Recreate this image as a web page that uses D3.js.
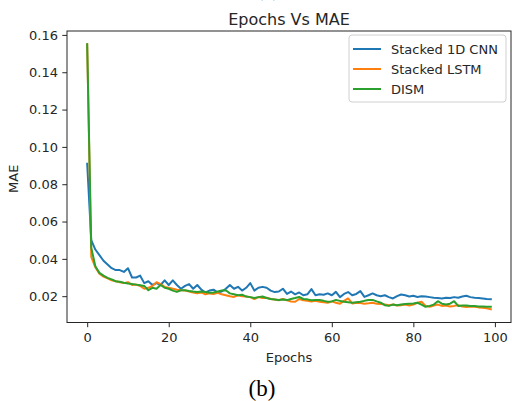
<!DOCTYPE html>
<html>
<head>
<meta charset="utf-8">
<script src="https://cdn.jsdelivr.net/npm/d3@7"></script>
<style>
  body { margin: 0; background: #fff; }
  svg { display: block; }
  text { font-family: "DejaVu Sans", sans-serif; fill: #262626; }
</style>
</head>
<body>
<div></div>
<script>
var epochs = d3.range(0, 100);

var cnn = [
  0.091, 0.050, 0.045, 0.042, 0.039, 0.037, 0.035, 0.034, 0.034, 0.033,
  0.035, 0.030, 0.030, 0.031, 0.027, 0.028, 0.026, 0.027, 0.026, 0.0285,
  0.026, 0.0285, 0.026, 0.024, 0.0255, 0.0265, 0.024, 0.026, 0.0235, 0.022,
  0.023, 0.0235, 0.022, 0.0225, 0.024, 0.026, 0.024, 0.025, 0.023, 0.0245,
  0.027, 0.023, 0.0245, 0.025, 0.0245, 0.023, 0.0222, 0.0225, 0.024, 0.0212,
  0.0225, 0.021, 0.022, 0.0205, 0.021, 0.0238, 0.0205, 0.021, 0.0208, 0.0215,
  0.0205, 0.0223, 0.0195, 0.0212, 0.0222, 0.0205, 0.0212, 0.0227, 0.0196, 0.0205,
  0.0215, 0.0205, 0.020, 0.0205, 0.0195, 0.0188, 0.020, 0.0209, 0.0205, 0.0198,
  0.0202, 0.0196, 0.020, 0.0198, 0.0195, 0.0192, 0.019, 0.0188, 0.0192, 0.019,
  0.0195, 0.0192, 0.0198, 0.0202, 0.0195, 0.0192, 0.019, 0.0188, 0.0185, 0.0184
];

var lstm = [
  0.155, 0.041, 0.0355, 0.032, 0.0305, 0.0295, 0.0285, 0.028, 0.0275, 0.027,
  0.0275, 0.026, 0.0262, 0.0255, 0.024, 0.0245, 0.0255, 0.0275, 0.0265, 0.025,
  0.0245, 0.024, 0.0235, 0.0232, 0.023, 0.0225, 0.022, 0.0215, 0.022, 0.021,
  0.0215, 0.0212, 0.0218, 0.021, 0.0205, 0.020, 0.0196, 0.0205, 0.020, 0.0198,
  0.0195, 0.0185, 0.0195, 0.019, 0.0192, 0.0185, 0.0182, 0.0178, 0.0185, 0.0178,
  0.0172, 0.017, 0.0185, 0.0178, 0.0175, 0.0172, 0.0175, 0.017, 0.0168, 0.0165,
  0.0172, 0.0165, 0.016, 0.0175, 0.0188, 0.0161, 0.0165, 0.0163, 0.016, 0.0162,
  0.0165, 0.016, 0.0158, 0.0155, 0.0152, 0.0155, 0.015, 0.0152, 0.0155, 0.015,
  0.0155, 0.0165, 0.017, 0.0148, 0.0143, 0.015, 0.0155, 0.0148, 0.015, 0.0145,
  0.0148, 0.0152, 0.0145, 0.0142, 0.0145, 0.0143, 0.014, 0.0138, 0.0135, 0.013
];

var dism = [
  0.155, 0.046, 0.036, 0.0325, 0.031, 0.0298, 0.029, 0.028, 0.0277, 0.0272,
  0.0268, 0.0265, 0.0262, 0.0259, 0.0255, 0.0232, 0.0245, 0.024, 0.026, 0.0245,
  0.024, 0.023, 0.0223, 0.0232, 0.0232, 0.0228, 0.0225, 0.0223, 0.0225, 0.0222,
  0.0218, 0.022, 0.0225, 0.023, 0.0232, 0.0215, 0.021, 0.0205, 0.0208, 0.0198,
  0.0195, 0.019, 0.0195, 0.0198, 0.019, 0.0185, 0.0182, 0.0179, 0.0182, 0.0179,
  0.0185, 0.019, 0.0196, 0.0185, 0.0183, 0.0178, 0.018, 0.0179, 0.0175, 0.017,
  0.0172, 0.018, 0.0175, 0.017, 0.0168, 0.0165, 0.0168, 0.017, 0.0175, 0.0179,
  0.018, 0.0172, 0.0165, 0.0152, 0.0148, 0.0155, 0.0152, 0.0155, 0.0158, 0.016,
  0.0161, 0.0165, 0.0155, 0.0143, 0.0148, 0.0155, 0.0173, 0.016, 0.0155, 0.016,
  0.0173, 0.0148, 0.015, 0.015, 0.0148, 0.0148, 0.0145, 0.0145, 0.0144, 0.0143
];

var seriesNames = ["Stacked 1D CNN", "Stacked LSTM", "DISM"];
var seriesColors = ["#1f77b4", "#ff7f0e", "#2ca02c"];
var xTicks = [0, 20, 40, 60, 80, 100];
var yTicks = [0.02, 0.04, 0.06, 0.08, 0.10, 0.12, 0.14, 0.16];

var W = 512, H = 401;
var plotL = 67, plotR = 511, plotT = 31, plotB = 322.5;

var svg = d3.select("div").append("svg").attr("width", W).attr("height", H);

var x = d3.scaleLinear().domain([-4.95, 103.95]).range([plotL, plotR]);
var y = d3.scaleLinear().domain([0.0059, 0.1621]).range([plotB, plotT]);

// caption of the panel above, mostly cut off by the crop
svg.append("text")
  .attr("x", 268).attr("y", -4)
  .attr("text-anchor", "middle")
  .style("font-family", "'Liberation Serif', serif")
  .style("font-size", "22px")
  .style("fill", "#000")
  .text("(a)");

var xAxis = svg.append("g")
  .attr("transform", "translate(0," + plotB + ")")
  .call(d3.axisBottom(x).tickValues(xTicks).tickSize(4.7).tickPadding(6).tickFormat(d3.format("d")));

var yAxis = svg.append("g")
  .attr("transform", "translate(" + plotL + ",0)")
  .call(d3.axisLeft(y).tickValues(yTicks).tickSize(4.7).tickPadding(4.3).tickFormat(d3.format(".2f")));

[xAxis, yAxis].forEach(function(g) {
  g.select(".domain").remove();
  g.selectAll(".tick line").attr("stroke", "#262626").attr("stroke-width", 1);
  g.selectAll(".tick text").style("font-family", "'DejaVu Sans', sans-serif").style("font-size", "13px").attr("fill", "#262626");
});

// frame
svg.append("rect")
  .attr("x", plotL).attr("y", plotT)
  .attr("width", plotR - plotL).attr("height", plotB - plotT)
  .attr("fill", "none").attr("stroke", "#262626").attr("stroke-width", 1);

var line = d3.line()
  .x(function(d, i) { return x(epochs[i]); })
  .y(function(d) { return y(d); });

svg.append("clipPath").attr("id", "plotclip")
  .append("rect").attr("x", plotL).attr("y", plotT).attr("width", plotR - plotL).attr("height", plotB - plotT);

[cnn, lstm, dism].forEach(function(s, k) {
  svg.append("path")
    .datum(s)
    .attr("clip-path", "url(#plotclip)")
    .attr("fill", "none")
    .attr("stroke", seriesColors[k])
    .attr("stroke-width", 2)
    .attr("stroke-linejoin", "round")
    .attr("stroke-linecap", "square")
    .attr("d", line);
});

// legend
var leg = svg.append("g");
leg.append("rect")
  .attr("x", 349).attr("y", 35).attr("width", 157).attr("height", 67)
  .attr("rx", 3)
  .attr("fill", "#fff").attr("fill-opacity", 0.8)
  .attr("stroke", "#d0d0d0").attr("stroke-width", 1);

seriesNames.forEach(function(name, k) {
  var ly = 49 + k * 20;
  leg.append("line")
    .attr("x1", 353).attr("x2", 381).attr("y1", ly).attr("y2", ly)
    .attr("stroke", seriesColors[k]).attr("stroke-width", 2);
  leg.append("text")
    .attr("x", 391).attr("y", ly + 4.7)
    .style("font-size", "13px")
    .text(name);
});

// title and axis labels
svg.append("text")
  .attr("x", (plotL + plotR) / 2).attr("y", 25)
  .attr("text-anchor", "middle")
  .style("font-size", "16px")
  .text("Epochs Vs MAE");

svg.append("text")
  .attr("x", (plotL + plotR) / 2).attr("y", 361.5)
  .attr("text-anchor", "middle")
  .style("font-size", "13px")
  .text("Epochs");

svg.append("text")
  .attr("transform", "translate(17.5," + ((plotT + plotB) / 2 + 2) + ") rotate(-90)")
  .attr("text-anchor", "middle")
  .style("font-size", "13px")
  .text("MAE");

svg.append("text")
  .attr("x", 262).attr("y", 396)
  .attr("text-anchor", "middle")
  .style("font-family", "'Liberation Serif', serif")
  .style("font-size", "23px")
  .style("fill", "#000")
  .text("(b)");
</script>
</body>
</html>
